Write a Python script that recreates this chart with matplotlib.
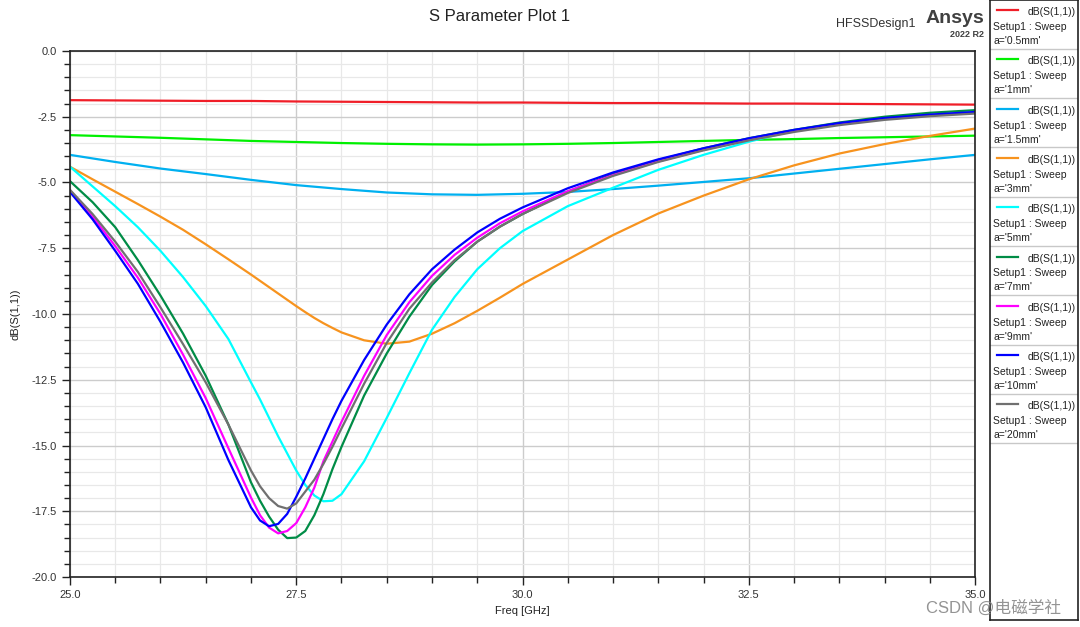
import matplotlib
matplotlib.use("Agg")
import matplotlib.pyplot as plt
from matplotlib.ticker import MultipleLocator

plt.rcParams['font.family'] = ['Liberation Sans', 'DejaVu Sans']

## Data

# dense grid for the resonant curves
freq = [25.0, 25.25, 25.5, 25.75, 26.0, 26.25, 26.5, 26.75, 27.0, 27.1, 27.2, 27.3,
        27.4, 27.5, 27.6, 27.7, 27.8, 27.9, 28.0, 28.25, 28.5, 28.75, 29.0, 29.25, 29.5,
        29.75, 30.0, 30.5, 31.0, 31.5, 32.0, 32.5, 33.0, 33.5, 34.0, 34.5, 35.0]

s11_3mm = [-4.4, -4.88, -5.35, -5.82, -6.3, -6.8, -7.35, -7.92, -8.5, -8.74, -8.98, -9.22,
           -9.46, -9.7, -9.93, -10.15, -10.35, -10.53, -10.7, -11.0, -11.13, -11.05, -10.75, -10.35, -9.88,
           -9.38, -8.86, -7.93, -7.0, -6.18, -5.5, -4.88, -4.35, -3.9, -3.54, -3.23, -2.95]
s11_5mm = [-4.4, -5.15, -5.9, -6.7, -7.6, -8.6, -9.7, -10.95, -12.6, -13.25, -13.95, -14.65,
           -15.3, -15.95, -16.5, -16.9, -17.12, -17.1, -16.85, -15.6, -13.95, -12.25, -10.6, -9.35, -8.3,
           -7.5, -6.85, -5.9, -5.2, -4.52, -3.95, -3.45, -3.03, -2.76, -2.56, -2.42, -2.32]
s11_7mm = [-4.95, -5.75, -6.7, -7.95, -9.3, -10.75, -12.35, -14.2, -16.4, -17.1, -17.7, -18.2,
           -18.52, -18.5, -18.25, -17.65, -16.85, -15.9, -15.05, -13.1, -11.5, -10.1, -8.9, -8.0, -7.25,
           -6.68, -6.2, -5.35, -4.68, -4.15, -3.7, -3.32, -3.0, -2.72, -2.5, -2.35, -2.25]
s11_9mm = [-5.32, -6.3, -7.42, -8.62, -10.0, -11.55, -13.2, -15.1, -16.98, -17.65, -18.12, -18.34,
           -18.25, -17.95, -17.35, -16.6, -15.6, -14.85, -14.1, -12.35, -10.8, -9.55, -8.55, -7.75, -7.1,
           -6.55, -6.1, -5.33, -4.72, -4.2, -3.76, -3.38, -3.05, -2.78, -2.58, -2.44, -2.34]
s11_10mm = [-5.36, -6.4, -7.6, -8.85, -10.3, -11.85, -13.55, -15.55, -17.35, -17.85, -18.07, -17.98,
            -17.6, -16.95, -16.25, -15.5, -14.75, -14.0, -13.3, -11.75, -10.4, -9.25, -8.3, -7.55, -6.9,
            -6.38, -5.95, -5.22, -4.62, -4.12, -3.7, -3.32, -3.0, -2.74, -2.55, -2.42, -2.32]
s11_20mm = [-5.28, -6.2, -7.25, -8.4, -9.75, -11.15, -12.6, -14.2, -15.95, -16.55, -17.0, -17.3,
            -17.4, -17.2, -16.75, -16.3, -15.7, -15.05, -14.35, -12.65, -11.1, -9.8, -8.8, -7.95, -7.25,
            -6.68, -6.2, -5.4, -4.75, -4.22, -3.78, -3.4, -3.08, -2.82, -2.62, -2.48, -2.38]

# coarser grid for the flat curves
freq_c = [25.0, 25.5, 26.0, 26.5, 27.0, 27.5, 28.0, 28.5, 29.0, 29.5, 30.0, 30.5,
          31.0, 31.5, 32.0, 32.5, 33.0, 33.5, 34.0, 34.5, 35.0]

s11_0p5mm = [-1.87, -1.88, -1.89, -1.9, -1.9, -1.92, -1.93, -1.94, -1.95, -1.96, -1.96, -1.97,
             -1.98, -1.98, -1.99, -2.0, -2.0, -2.01, -2.02, -2.03, -2.04]
s11_1mm = [-3.2, -3.25, -3.3, -3.36, -3.42, -3.46, -3.5, -3.53, -3.55, -3.56, -3.55, -3.53,
           -3.5, -3.46, -3.42, -3.38, -3.35, -3.31, -3.28, -3.25, -3.22]
s11_1p5mm = [-3.95, -4.22, -4.47, -4.68, -4.9, -5.1, -5.25, -5.38, -5.45, -5.47, -5.43, -5.36,
             -5.25, -5.12, -4.98, -4.84, -4.66, -4.48, -4.3, -4.12, -3.95]

labels = ["a='0.5mm'", "a='1mm'", "a='1.5mm'", "a='3mm'", "a='5mm'",
          "a='7mm'", "a='9mm'", "a='10mm'", "a='20mm'"]
colors = ['#f01e28', '#00f000', '#00b0f0', '#f7931e', '#00ffff',
          '#008c46', '#ff00ff', '#0000ff', '#707070']

x_sets = [freq_c, freq_c, freq_c, freq, freq, freq, freq, freq, freq]
y_sets = [s11_0p5mm, s11_1mm, s11_1p5mm, s11_3mm, s11_5mm,
          s11_7mm, s11_9mm, s11_10mm, s11_20mm]

## Figure
fig = plt.figure(figsize=(10.8, 6.27), dpi=100)
ax = fig.add_axes([0.0648, 0.0797, 0.838, 0.839])

for xs, ys, c in zip(x_sets, y_sets, colors):
    ax.plot(xs, ys, color=c, lw=1.6)

ax.set_xlim(25, 35)
ax.set_ylim(-20, 0)
ax.xaxis.set_major_locator(MultipleLocator(2.5))
ax.xaxis.set_minor_locator(MultipleLocator(0.5))
ax.yaxis.set_major_locator(MultipleLocator(2.5))
ax.yaxis.set_minor_locator(MultipleLocator(0.5))
ax.grid(which='major', color='#cccccc', lw=1.0)
ax.grid(which='minor', color='#e8e8e8', lw=0.9)
ax.set_axisbelow(True)
ax.tick_params(which='major', direction='out', length=6, width=1, colors='#222222',
               labelsize=8, labelcolor='#333333')
ax.tick_params(which='minor', direction='out', length=4, width=1, colors='#222222')
ax.xaxis.set_major_formatter(lambda v, p: f"{v:.1f}")
ax.yaxis.set_major_formatter(lambda v, p: f"{v:.1f}")
for s in ax.spines.values():
    s.set_color('#222222')
    s.set_linewidth(1.2)

ax.set_xlabel('Freq [GHz]', fontsize=8, color='#222222', labelpad=4)
ax.set_ylabel('dB(S(1,1))', fontsize=8, color='#222222', labelpad=8)

fig.text(0.463, 0.973, 'S Parameter Plot 1', ha='center', va='center', fontsize=12, color='#222222')
fig.text(0.774, 0.961, 'HFSSDesign1', ha='left', va='center', fontsize=9, color='#333333')
fig.text(0.911, 0.971, 'Ansys', ha='right', va='center', fontsize=14, fontweight='bold', color='#404040')
fig.text(0.911, 0.945, '2022 R2', ha='right', va='center', fontsize=6.5, fontweight='bold', color='#404040')

# Legend panel
lax = fig.add_axes([990 / 1080, 7 / 627, 88 / 1080, 620 / 627])
lax.set_xlim(0, 88)
lax.set_ylim(620, 0)
lax.set_xticks([])
lax.set_yticks([])
for s in lax.spines.values():
    s.set_color('#222222')
    s.set_linewidth(1.2)
step = 49.3
for i, (lab, c) in enumerate(zip(labels, colors)):
    top = i * step
    lax.plot([7, 28], [top + 10, top + 10], color=c, lw=1.6)
    lax.text(86, top + 12, 'dB(S(1,1))', ha='right', va='center', fontsize=7.5, color='#222222')
    lax.text(3, top + 27, 'Setup1 : Sweep', ha='left', va='center', fontsize=7.5, color='#222222')
    lax.text(3, top + 41, lab, ha='left', va='center', fontsize=7.5, color='#222222')
    lax.plot([0, 88], [top + step - 0.5, top + step - 0.5], color='#c8c8c8', lw=1.0)

fig.text(0.857, 0.03, 'CSDN @电磁学社', ha='left', va='center', fontsize=12, color='#888888',
         family=['Liberation Sans', 'Noto Sans CJK SC'], alpha=0.9)

fig.savefig('out.png', dpi=100)
